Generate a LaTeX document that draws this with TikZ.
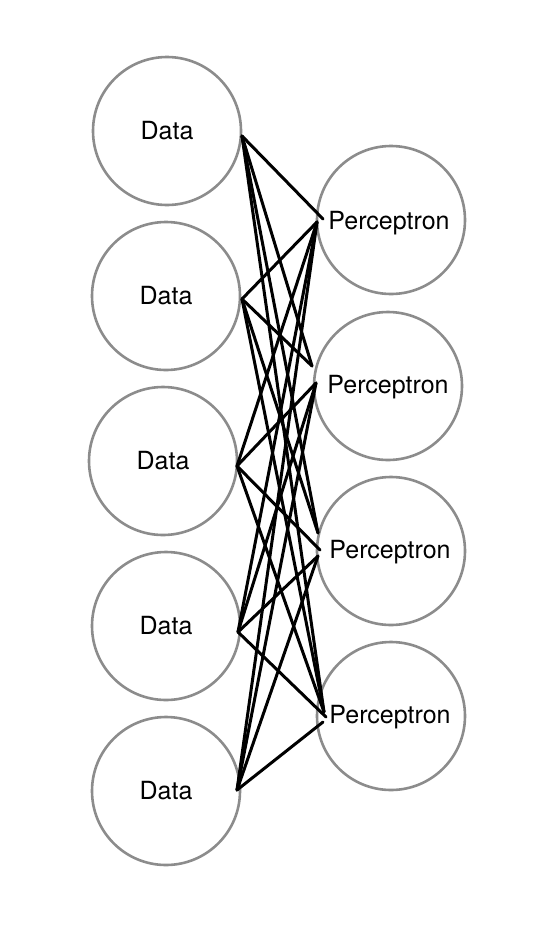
\documentclass[tikz,border=0pt]{standalone}
\usepackage{fontspec}
\setmainfont{TeX Gyre Heros}
\definecolor{ringgray}{HTML}{8C8C8C}
\begin{document}
\begin{tikzpicture}[x=1pt,y=-1pt,
  unit/.style={circle,draw=ringgray,line width=2.6pt,minimum size=148pt,inner sep=0pt,font=\fontsize{25}{28}\selectfont},
  ptext/.style={font=\fontsize{25}{28}\selectfont,inner sep=0pt},
  link/.style={black,line width=3pt,line cap=round,line join=round}]
\useasboundingbox (0,0) rectangle (554,938);
% data circles
\node[unit] (d1) at (167,131) {Data};
\node[unit] (d2) at (166,296) {Data};
\node[unit] (d3) at (163,461) {Data};
\node[unit] (d4) at (166,626) {Data};
\node[unit] (d5) at (166,791) {Data};
% perceptron circles
\node[unit,label={[ptext,xshift=-2pt,yshift=-3pt]center:Perceptron}] (p1) at (391,220) {};
\node[unit,label={[ptext,xshift=0pt,yshift=-1pt]center:Perceptron}] (p2) at (388,386) {};
\node[unit,label={[ptext,xshift=-1pt,yshift=-1pt]center:Perceptron}] (p3) at (391,551) {};
\node[unit,label={[ptext,xshift=-1pt,yshift=-1pt]center:Perceptron}] (p4) at (391,716) {};
% connection ends on data side
\coordinate (a1) at (242,136);
\coordinate (a2) at (242,299);
\coordinate (a3) at (237,466);
\coordinate (a4) at (238,632);
\coordinate (a5) at (237,790);
% connection ends on perceptron side
\coordinate (q1a) at (323,219);
\coordinate (q1b) at (317,222);
\coordinate (q2a) at (312,366);
\coordinate (q2b) at (316,383);
\coordinate (q3a) at (318,533);
\coordinate (q3b) at (320,550);
\coordinate (q3c) at (318,556);
\coordinate (q4a) at (324,712);
\coordinate (q4b) at (326,717);
\coordinate (q4c) at (323,722);
% connections
\draw[link] (a1) -- (q1a);
\draw[link] (a1) -- (q2a);
\draw[link] (a1) -- (q3a);
\draw[link] (a1) -- (q4a);
\draw[link] (a2) -- (q1b);
\draw[link] (a2) -- (q2a);
\draw[link] (a2) -- (q3a);
\draw[link] (a2) -- (q4a);
\draw[link] (a3) -- (q1b);
\draw[link] (a3) -- (q2b);
\draw[link] (a3) -- (q3b);
\draw[link] (a3) -- (q4a);
\draw[link] (a4) -- (q1b);
\draw[link] (a4) -- (q2b);
\draw[link] (a4) -- (q3c);
\draw[link] (a4) -- (q4b);
\draw[link] (a5) -- (q1b);
\draw[link] (a5) -- (q2b);
\draw[link] (a5) -- (q3c);
\draw[link] (a5) -- (q4c);
\end{tikzpicture}
\end{document}
